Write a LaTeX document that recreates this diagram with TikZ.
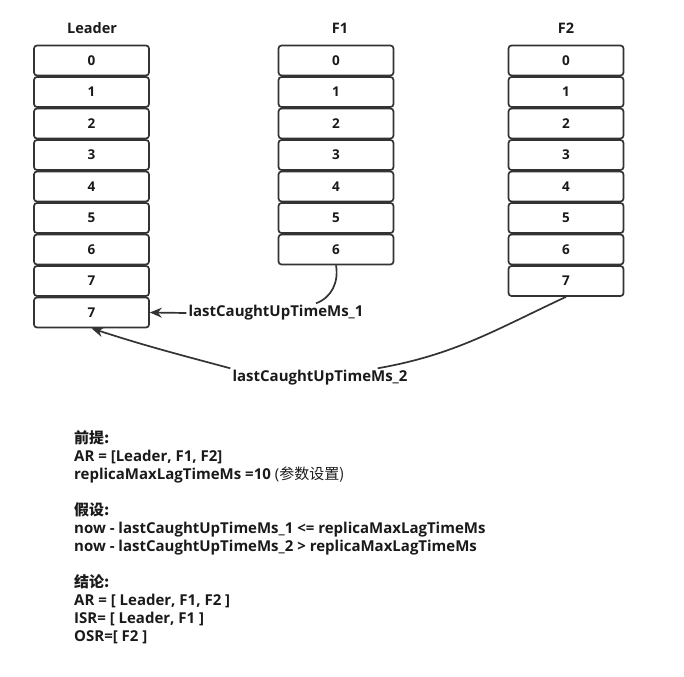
\documentclass[tikz,border=0pt]{standalone}
\usepackage{fontspec}
\setmainfont{Open Sans}
\newfontfamily\cjk{Noto Sans CJK SC}
\usetikzlibrary{positioning,arrows.meta}
\definecolor{linegray}{HTML}{333333}
\definecolor{textgray}{HTML}{1A1A1A}

\begin{document}
\begin{tikzpicture}[
  x=1pt, y=-1pt,
  cell/.style={draw=linegray, line width=1.7pt, rounded corners=3pt,
               minimum width=115pt, minimum height=30pt, inner sep=0pt,
               text=textgray, font=\bfseries\fontsize{13.5}{15}\selectfont},
  head/.style={text=textgray, font=\bfseries\fontsize{14.5}{16}\selectfont},
  lbl/.style={text=textgray, inner sep=2pt, font=\bfseries\fontsize{15}{17}\selectfont},
  note/.style={text=textgray, align=left, inner sep=0pt,
               font=\bfseries\fontsize{15}{18}\selectfont},
  arrow/.style={-{Stealth[length=12pt,width=10pt]}, line width=1.7pt, draw=linegray},
  link/.style={line width=1.7pt, draw=linegray}
]
  \useasboundingbox (0,0) rectangle (684,676);

  % column titles
  \node[head] (leader) at (92,28) {Leader};
  \node[head] (f1) at (340,28) {F1};
  \node[head] (f2) at (566,28) {F2};

  % log cells
  \foreach \i/\t in {0/0,1/1,2/2,3/3,4/4,5/5,6/6,7/7,8/7}
    \node[cell] (l\i) at (91.5,{60.5+31.5*\i}) {\t};
  \foreach \i in {0,...,6}
    \node[cell] (fa\i) at (336,{60.5+31.5*\i}) {\i};
  \foreach \i in {0,...,7}
    \node[cell] (fb\i) at (566,{60.5+31.5*\i}) {\i};

  % caught-up markers
  \node[lbl] (lag1) at (276,313) {lastCaughtUpTimeMs\_1};
  \node[lbl] (lag2) at (320,378) {lastCaughtUpTimeMs\_2};

  \draw[link] (fa6.south) to[out=-80, in=20] ([xshift=40pt]lag1.north);
  \draw[arrow] (lag1.west) -- (l8.east);
  \draw[link] (fb7.south) to[out=-155, in=10] ([xshift=-32pt]lag2.north east);
  \draw[arrow] (lag2.north west) to[out=165, in=-18] (l8.south);

  % notes
  \node[note, anchor=north west] (notes) at (74,430) {%
    {\cjk\bfseries 前提:}\\
    AR = [Leader, F1, F2]\\
    replicaMaxLagTimeMs =10 {\mdseries(\cjk 参数设置)}\\[18pt]
    {\cjk\bfseries 假设:}\\
    now - lastCaughtUpTimeMs\_1 <= replicaMaxLagTimeMs\\
    now - lastCaughtUpTimeMs\_2 > replicaMaxLagTimeMs\\[18pt]
    {\cjk\bfseries 结论:}\\
    AR = [ Leader, F1, F2 ]\\
    ISR= [ Leader, F1 ]\\
    OSR=[ F2 ]};
\end{tikzpicture}
\end{document}
